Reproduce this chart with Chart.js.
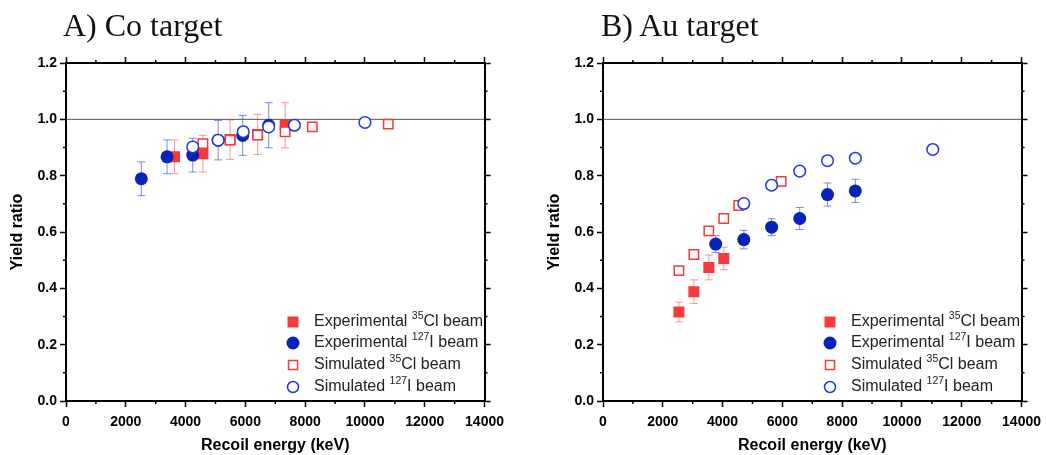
<!DOCTYPE html>
<html>
<head>
<meta charset="utf-8">
<script src="https://cdn.jsdelivr.net/npm/chart.js@4.4.0/dist/chart.umd.min.js"></script>
<style>
  body { margin: 0; background: #fff; width: 1046px; height: 455px; position: relative; overflow: hidden; }
  .panel { position: absolute; top: 0; width: 511px; height: 455px; }
  .ttl { position: absolute; top: 7px; font-family: "Liberation Serif", serif; font-size: 32px; color: #111; }
</style>
</head>
<body>
<div class="panel" style="left:0"><canvas id="coChart"></canvas></div>
<div class="panel" style="left:537px"><canvas id="auChart"></canvas></div>
<div class="ttl" style="left:63px">A) Co target</div>
<div class="ttl" style="left:601px">B) Au target</div>
<script>
// A) Co target
const coExpClX = [3630, 4580, 5490, 6410, 7330];
const coExpClY = [0.867, 0.878, 0.928, 0.946, 0.979];
const coExpClErr = [0.06, 0.065, 0.07, 0.071, 0.08];
const coExpIX = [2520, 3380, 4240, 5090, 5910, 6780];
const coExpIY = [0.789, 0.867, 0.873, 0.926, 0.943, 0.979];
const coExpIErr = [0.06, 0.06, 0.06, 0.07, 0.071, 0.08];
const coSimClX = [4580, 5490, 6410, 7330, 8240, 10780];
const coSimClY = [0.914, 0.926, 0.944, 0.956, 0.973, 0.983];
const coSimIX = [4240, 5090, 5930, 6780, 7640, 10000];
const coSimIY = [0.902, 0.926, 0.956, 0.973, 0.979, 0.989];

// B) Au target
const auExpClX = [2540, 3040, 3540, 4040];
const auExpClY = [0.316, 0.388, 0.474, 0.506];
const auExpClErr = [0.035, 0.042, 0.044, 0.04];
const auExpIX = [3770, 4710, 5640, 6580, 7510, 8440];
const auExpIY = [0.557, 0.573, 0.617, 0.648, 0.733, 0.746];
const auExpIErr = [0.03, 0.033, 0.03, 0.039, 0.041, 0.041];
const auSimClX = [2540, 3040, 3540, 4040, 4540, 5960];
const auSimClY = [0.463, 0.52, 0.604, 0.648, 0.694, 0.78];
const auSimIX = [4710, 5640, 6580, 7510, 8440, 11030];
const auSimIY = [0.701, 0.766, 0.816, 0.853, 0.862, 0.893];

// reference line at ratio 1
const refX = [0, 14000];
const refY = [1, 1];

// axis ticks
const xMinorTicks = [1000, 3000, 5000, 7000, 9000, 11000, 13000];
const yMinorTicks = [0.1, 0.3, 0.5, 0.7, 0.9, 1.1];

const legendParts = [
  ["Experimental ", "35", "Cl beam"],
  ["Experimental ", "127", "I beam"],
  ["Simulated ", "35", "Cl beam"],
  ["Simulated ", "127", "I beam"],
];

const RED = "#f63a3a";
const BLUE = "#0622b8";
const BLUE_OPEN = "#1c3bd9";
const FONT = "'Liberation Sans', Arial, sans-serif";

function pts(xs, ys) {
  return xs.map((x, i) => ({ x: x, y: ys[i] }));
}

// vertical error bars drawn under the markers
const errorBars = {
  id: "errorBars",
  beforeDatasetsDraw(chart) {
    const ctx = chart.ctx;
    const sx = chart.scales.x, sy = chart.scales.y;
    ctx.save();
    chart.data.datasets.forEach((ds) => {
      if (!ds.errors) return;
      ctx.strokeStyle = ds.errorColor;
      ctx.lineWidth = 1;
      ds.data.forEach((p, j) => {
        const e = ds.errors[j];
        const x = sx.getPixelForValue(p.x);
        const t = sy.getPixelForValue(p.y + e);
        const b = sy.getPixelForValue(p.y - e);
        ctx.beginPath();
        ctx.moveTo(x, t); ctx.lineTo(x, b);
        ctx.moveTo(x - 4, t); ctx.lineTo(x + 4, t);
        ctx.moveTo(x - 4, b); ctx.lineTo(x + 4, b);
        ctx.stroke();
      });
    });
    ctx.restore();
  },
};

// small ticks between the labelled ones
const minorTicks = {
  id: "minorTicks",
  afterDraw(chart) {
    const ctx = chart.ctx, a = chart.chartArea;
    const sx = chart.scales.x, sy = chart.scales.y;
    ctx.save();
    ctx.strokeStyle = "#000";
    ctx.lineWidth = 1.5;
    ctx.beginPath();
    xMinorTicks.forEach((v) => {
      const p = sx.getPixelForValue(v);
      ctx.moveTo(p, a.bottom); ctx.lineTo(p, a.bottom + 3);
      ctx.moveTo(p, a.top); ctx.lineTo(p, a.top - 3);
    });
    yMinorTicks.forEach((v) => {
      const p = sy.getPixelForValue(v);
      ctx.moveTo(a.left, p); ctx.lineTo(a.left - 3, p);
      ctx.moveTo(a.right, p); ctx.lineTo(a.right + 3, p);
    });
    ctx.stroke();
    ctx.restore();
  },
};

function drawMarker(ctx, kind, x, y) {
  ctx.beginPath();
  if (kind == 0) {
    ctx.fillStyle = RED;
    ctx.fillRect(x - 5.5, y - 5.5, 11, 11);
  } else if (kind == 1) {
    ctx.fillStyle = BLUE;
    ctx.arc(x, y, 6.5, 0, Math.PI * 2);
    ctx.fill();
  } else if (kind == 2) {
    ctx.strokeStyle = RED;
    ctx.lineWidth = 1.5;
    ctx.strokeRect(x - 4.5, y - 4.5, 9, 9);
  } else {
    ctx.strokeStyle = BLUE_OPEN;
    ctx.lineWidth = 1.5;
    ctx.arc(x, y, 5.5, 0, Math.PI * 2);
    ctx.stroke();
  }
}

// legend inside the bottom right corner, with superscript mass numbers
const boxLegend = {
  id: "boxLegend",
  afterDraw(chart) {
    const ctx = chart.ctx, a = chart.chartArea;
    const rows = [-79, -58, -36, -14];
    ctx.save();
    ctx.textBaseline = "middle";
    legendParts.forEach((parts, i) => {
      const y = a.bottom + rows[i];
      drawMarker(ctx, i, a.left + 227, y);
      let x = a.left + 248;
      ctx.fillStyle = "#222";
      ctx.font = "16px " + FONT;
      ctx.fillText(parts[0], x, y);
      x += ctx.measureText(parts[0]).width;
      ctx.font = "10.5px " + FONT;
      ctx.fillText(parts[1], x, y - 6);
      x += ctx.measureText(parts[1]).width;
      ctx.font = "16px " + FONT;
      ctx.fillText(parts[2], x, y);
    });
    ctx.restore();
  },
};

function makeChart(id, expClX, expClY, expClErr, expIX, expIY, expIErr, simClX, simClY, simIX, simIY) {
  const axisBase = {
    type: "linear",
    border: { color: "#000", width: 2 },
    grid: { drawOnChartArea: false, tickLength: 6, tickColor: "#000", tickWidth: 1.5 },
  };
  return new Chart(document.getElementById(id), {
    type: "scatter",
    data: {
      datasets: [
        {
          label: "Simulated ¹²⁷I beam",
          data: pts(simIX, simIY),
          pointStyle: "circle",
          pointRadius: 5.8,
          backgroundColor: "#fff",
          borderColor: BLUE_OPEN,
          borderWidth: 1.5,
        },
        {
          label: "Simulated ³⁵Cl beam",
          data: pts(simClX, simClY),
          pointStyle: "rect",
          pointRadius: 6.6,
          backgroundColor: "#fff",
          borderColor: RED,
          borderWidth: 1.5,
        },
        {
          label: "Experimental ¹²⁷I beam",
          data: pts(expIX, expIY),
          errors: expIErr,
          errorColor: "rgba(70, 90, 225, 0.7)",
          pointStyle: "circle",
          pointRadius: 6.5,
          backgroundColor: BLUE,
          borderColor: BLUE,
          borderWidth: 0,
        },
        {
          label: "Experimental ³⁵Cl beam",
          data: pts(expClX, expClY),
          errors: expClErr,
          errorColor: "rgba(245, 100, 100, 0.65)",
          pointStyle: "rect",
          pointRadius: 7.8,
          backgroundColor: RED,
          borderColor: RED,
          borderWidth: 0,
        },
        {
          label: "ratio 1",
          type: "line",
          data: pts(refX, refY),
          borderColor: "#555",
          borderWidth: 1,
          pointRadius: 0,
        },
      ],
    },
    options: {
      responsive: true,
      maintainAspectRatio: false,
      animation: false,
      devicePixelRatio: 1,
      layout: { padding: { left: 0, top: 57, right: 18, bottom: 0 } },
      plugins: { legend: { display: false }, tooltip: { enabled: false } },
      scales: {
        x: {
          ...axisBase,
          position: "bottom",
          min: 0,
          max: 14000,
          ticks: {
            stepSize: 2000,
            color: "#000",
            padding: 7,
            font: { family: FONT, size: 14, weight: "bold" },
            callback: (v) => String(v),
          },
          title: {
            display: true,
            text: "Recoil energy (keV)",
            color: "#000",
            font: { family: FONT, size: 16, weight: "bold" },
            padding: { top: 0, bottom: 0 },
          },
          afterFit: (s) => { s.height = 54; },
        },
        x2: {
          ...axisBase,
          position: "top",
          min: 0,
          max: 14000,
          ticks: { stepSize: 2000, display: false },
          afterFit: (s) => { s.height = 6; },
        },
        y: {
          ...axisBase,
          position: "left",
          min: 0,
          max: 1.2,
          ticks: {
            stepSize: 0.2,
            color: "#000",
            padding: 3,
            font: { family: FONT, size: 14, weight: "bold" },
            callback: (v) => v.toFixed(1),
          },
          title: {
            display: true,
            text: "Yield ratio",
            color: "#000",
            font: { family: FONT, size: 16, weight: "bold" },
            padding: { top: 8, bottom: 0 },
          },
          afterFit: (s) => { s.width = 66; },
        },
        y2: {
          ...axisBase,
          position: "right",
          min: 0,
          max: 1.2,
          ticks: { stepSize: 0.2, display: false },
          afterFit: (s) => { s.width = 6; },
        },
      },
    },
    plugins: [errorBars, minorTicks, boxLegend],
  });
}

makeChart("coChart", coExpClX, coExpClY, coExpClErr, coExpIX, coExpIY, coExpIErr, coSimClX, coSimClY, coSimIX, coSimIY);
makeChart("auChart", auExpClX, auExpClY, auExpClErr, auExpIX, auExpIY, auExpIErr, auSimClX, auSimClY, auSimIX, auSimIY);
</script>
</body>
</html>
